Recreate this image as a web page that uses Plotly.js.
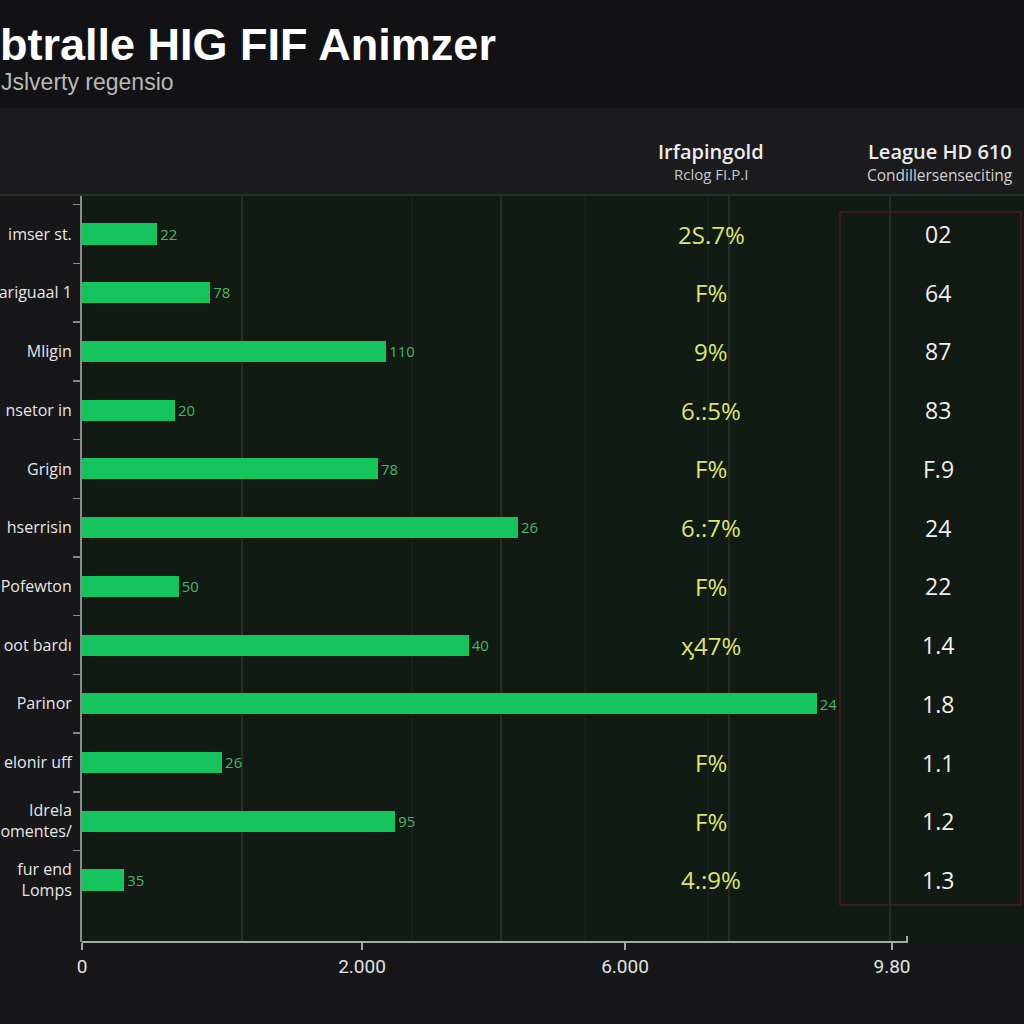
<!DOCTYPE html>
<html><head><meta charset="utf-8">
<script src="https://cdn.plot.ly/plotly-3.0.1.min.js"></script>
<style>html,body{margin:0;padding:0;background:#161618;}#chart{width:1024px;height:1024px;}</style>
</head><body><div id="chart"></div>
<script>
// ---- data ----
const categories = ["imser st.", "ariguaal 1", "Mligin", "nsetor in", "Grigin", "hserrisin", "Pofewton", "oot bardı", "Parinor", "elonir uff", "Idrela<br>omentes/", "fur end<br>Lomps"];
const barValues = [910, 1550, 3680, 1125, 3580, 5275, 1170, 4680, 8890, 1695, 3790, 510];
const barLabels = ["22", "78", "110", "20", "78", "26", "50", "40", "24", "26", "95", "35"];
const pctColumn = ["2S.7%", "F%", "9%", "6.:5%", "F%", "6.:7%", "F%", "ӽ47%", "", "F%", "F%", "4.:9%"];
const rightColumn = ["02", "64", "87", "83", "F.9", "24", "22", "1.4", "1.8", "1.1", "1.2", "1.3"];
const xTickVals = [0, 3388, 6570, 9800];
const xTickText = ["0", "2.000", "6.000", "9.80"];
const gridMajor = [1936, 5070, 7828, 9776];
const gridMinor = [3993, 6086, 7574];

// ---- layout helpers (pixel -> paper) ----
const L = 82, T = 196, W = 942, H = 746;
const px = x => (x - L) / W;
const py = y => 1 - (y - T) / H;

const bars = {
  type: 'bar', orientation: 'h',
  y: categories, x: barValues,
  width: 0.36,
  marker: {color: '#16c45d', line: {width: 0}},
  text: barLabels, textposition: 'outside',
  textfont: {family: 'Open Sans, Noto Sans, sans-serif', size: 15.5, color: '#46b865'},
  cliponaxis: false, hoverinfo: 'skip'
};

const shapes = [
  {type: 'rect', xref: 'paper', yref: 'paper', x0: px(0), x1: px(1024), y0: py(108), y1: py(0), fillcolor: '#121215', line: {width: 0}, layer: 'below'},
  {type: 'rect', xref: 'paper', yref: 'paper', x0: px(0), x1: px(1024), y0: py(196), y1: py(108), fillcolor: '#1b1b1d', line: {width: 0}, layer: 'below'},
  {type: 'line', xref: 'paper', yref: 'paper', x0: px(0), x1: px(1024), y0: py(195), y1: py(195), line: {color: '#2f3a31', width: 1.5}},
  {type: 'rect', xref: 'paper', yref: 'paper', x0: px(840), x1: px(1021), y0: py(905), y1: py(212), line: {color: '#4a1c1e', width: 1.5}, fillcolor: 'rgba(0,0,0,0)'},
  {type: 'line', xref: 'paper', yref: 'paper', x0: 0, x1: px(908), y0: 0, y1: 0, line: {color: '#a8a8a8', width: 2}},
  {type: 'line', xref: 'paper', yref: 'paper', x0: px(907), x1: px(907), y0: 0, y1: py(936), line: {color: '#a8a8a8', width: 2}}
];
gridMajor.forEach(v => shapes.push({type: 'line', xref: 'x', yref: 'paper', x0: v, x1: v, y0: 0, y1: 1, line: {color: '#343a35', width: 1.2}, layer: 'below'}));
gridMinor.forEach(v => shapes.push({type: 'line', xref: 'x', yref: 'paper', x0: v, x1: v, y0: 0, y1: 1, line: {color: '#222824', width: 1}, layer: 'below'}));

const annotations = [
  {text: 'btralle HIG FIF Animzer', xref: 'paper', yref: 'paper', x: px(-2), y: py(44), xanchor: 'left', yanchor: 'middle', showarrow: false,
   font: {family: 'Liberation Sans, Arial, sans-serif', size: 45, color: '#ffffff', weight: 700}},
  {text: 'Jslverty regensio', xref: 'paper', yref: 'paper', x: px(-1), y: py(82), xanchor: 'left', yanchor: 'middle', showarrow: false,
   font: {family: 'Liberation Sans, Arial, sans-serif', size: 23, color: '#b8b8b8'}},
  {text: 'Irfapingold', xref: 'paper', yref: 'paper', x: px(711), y: py(151), xanchor: 'center', yanchor: 'middle', showarrow: false,
   font: {family: 'Open Sans, sans-serif', size: 20, color: '#ececec', weight: 600}},
  {text: 'Rclog FI.P.I', xref: 'paper', yref: 'paper', x: px(711), y: py(174), xanchor: 'center', yanchor: 'middle', showarrow: false,
   font: {family: 'Open Sans, sans-serif', size: 15, color: '#c8c8c8'}},
  {text: 'League HD 610', xref: 'paper', yref: 'paper', x: px(940), y: py(151), xanchor: 'center', yanchor: 'middle', showarrow: false,
   font: {family: 'Open Sans, sans-serif', size: 20, color: '#ececec', weight: 600}},
  {text: 'Condillersenseciting', xref: 'paper', yref: 'paper', x: px(940), y: py(175), xanchor: 'center', yanchor: 'middle', showarrow: false,
   font: {family: 'Open Sans, sans-serif', size: 15.5, color: '#d0d0d0'}}
];
pctColumn.forEach((t, i) => { if (t) annotations.push({text: t, xref: 'paper', yref: 'y', x: px(711), y: categories[i], xanchor: 'center', yanchor: 'middle', showarrow: false,
   font: {family: 'Open Sans, Noto Sans, sans-serif', size: 24, color: '#dde56a'}}); });
rightColumn.forEach((t, i) => annotations.push({text: t, xref: 'paper', yref: 'y', x: px(938), y: categories[i], xanchor: 'center', yanchor: 'middle', showarrow: false,
   font: {family: 'Open Sans, Noto Sans, sans-serif', size: 23, color: '#f0f0f0'}}));

const layout = {
  width: 1024, height: 1024,
  margin: {l: L, r: 0, t: T, b: 1024 - T - H},
  paper_bgcolor: '#17171a', plot_bgcolor: '#121a14',
  showlegend: false, bargap: 0,
  xaxis: {range: [0, 11397], showgrid: false, zeroline: false, showline: false,
    tickvals: xTickVals, ticktext: xTickText, ticks: 'outside', ticklen: 7, tickwidth: 1.5, tickcolor: '#a8a8a8',
    tickfont: {family: 'Roboto, Noto Sans, sans-serif', size: 19, color: '#e2e2e2'}, fixedrange: true},
  yaxis: {type: 'category', range: [12.056, -0.647], showgrid: false, zeroline: false,
    showline: true, linecolor: '#8a8a8a', linewidth: 2,
    ticks: 'outside', tickson: 'boundaries', ticklen: 7, tickwidth: 1.5, tickcolor: '#8a8a8a', ticklabelstandoff: 5,
    tickfont: {family: 'Open Sans, Noto Sans, sans-serif', size: 16, color: '#e6e6e6'}, fixedrange: true},
  shapes: shapes, annotations: annotations
};

Plotly.newPlot('chart', [bars], layout, {displayModeBar: false, staticPlot: true});
</script></body></html>
